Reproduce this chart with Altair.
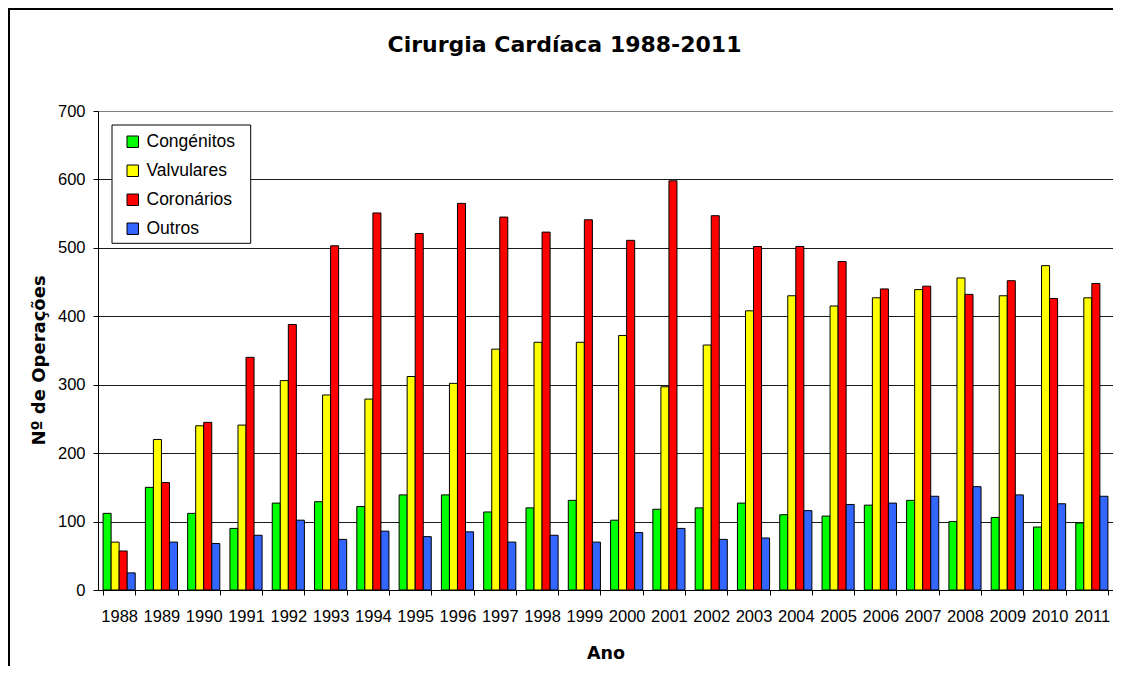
import altair as alt
import pandas as pd

anos = [str(a) for a in range(1988, 2012)]
series = ["Congénitos", "Valvulares", "Coronários", "Outros"]
cores = ["#00FF00", "#FFFF00", "#FF0000", "#3366FF"]
titulo = "Cirurgia Cardíaca 1988-2011"

congenitos = [112, 150, 112, 90, 127, 129, 122, 139, 139, 114, 120, 131,
              102, 118, 120, 127, 110, 108, 124, 131, 100, 106, 92, 98]
valvulares = [70, 220, 240, 241, 306, 285, 279, 312, 302, 352, 362, 362,
              372, 297, 358, 408, 430, 415, 427, 439, 456, 430, 474, 427]
coronarios = [57, 157, 245, 340, 388, 503, 551, 521, 565, 545, 523, 541,
              511, 598, 547, 502, 502, 480, 440, 444, 432, 452, 426, 448]
outros = [25, 70, 68, 80, 102, 74, 86, 78, 85, 70, 80, 70,
          84, 90, 74, 76, 116, 125, 127, 137, 151, 139, 126, 137]

valores = [congenitos, valvulares, coronarios, outros]
rows = []
for s, vals in zip(series, valores):
    for a, v in zip(anos, vals):
        rows.append({"Ano": a, "Serie": s, "Valor": v})
df = pd.DataFrame(rows)

W, H = 1015, 479
PAD_BOTTOM = 76

bars = alt.Chart(df).mark_bar(stroke="black", strokeWidth=1).encode(
    x=alt.X("Ano:N", sort=anos,
            scale=alt.Scale(domain=anos, paddingInner=0.24, paddingOuter=0.12),
            axis=alt.Axis(title="Ano", labelAngle=0, tickBand="extent",
                          tickSize=5, tickColor="black", domainColor="black",
                          labelFont="Liberation Sans", labelFontSize=16.5,
                          labelColor="black", labelBaseline="alphabetic",
                          labelPadding=26,
                          titleFont="DejaVu Sans", titleFontSize=17.5,
                          titleFontWeight="bold", titleColor="black",
                          titleBaseline="alphabetic", titleY=68, grid=False)),
    xOffset=alt.XOffset("Serie:N", sort=series,
                        scale=alt.Scale(domain=series, paddingInner=0, paddingOuter=0)),
    y=alt.Y("Valor:Q", scale=alt.Scale(domain=[0, 700], nice=False),
            axis=alt.Axis(title="Nº de Operações", values=list(range(0, 701, 100)),
                          tickSize=5, tickColor="black", domainColor="black",
                          labelFont="Liberation Sans", labelFontSize=16.5,
                          labelColor="black", labelPadding=8,
                          grid=True,
                          gridColor={"condition": {"test": "datum.value >= 700", "value": "#808080"},
                                     "value": "#1a1a1a"},
                          gridWidth=1, gridOpacity=1,
                          titleFont="DejaVu Sans", titleFontSize=18,
                          titleFontWeight="bold", titleColor="black",
                          titleX=-59, titleY=249, titleBaseline="middle")),
    color=alt.Color("Serie:N", sort=series,
                    scale=alt.Scale(domain=series, range=cores),
                    legend=alt.Legend(title=None, orient="none", legendX=26, legendY=22,
                                      symbolType="square", symbolSize=132,
                                      symbolStrokeColor="black", symbolStrokeWidth=1,
                                      symbolOpacity=1,
                                      labelFont="Liberation Sans", labelFontSize=17.5,
                                      labelColor="black", labelOffset=5,
                                      rowPadding=10, padding=0)),
)

box = alt.Chart(alt.Data(values=[{}])).mark_rect(
    fill="white", stroke="black", strokeWidth=1
).encode(x=alt.value(14), x2=alt.value(152.7), y=alt.value(14), y2=alt.value(132.3))

frame_left = alt.Chart(alt.Data(values=[{}])).mark_rect(
    fill="black", strokeWidth=0
).encode(x=alt.value(-90), x2=alt.value(-88), y=alt.value(-103), y2=alt.value(H + PAD_BOTTOM))

frame_top = alt.Chart(alt.Data(values=[{}])).mark_rect(
    fill="black", strokeWidth=0
).encode(x=alt.value(-90), x2=alt.value(W), y=alt.value(-103), y2=alt.value(-101))

title = alt.Chart(alt.Data(values=[{"t": titulo}])).mark_text(
    font="DejaVu Sans", fontSize=22, fontWeight="bold", color="black",
    align="center", baseline="alphabetic"
).encode(text="t:N", x=alt.value(466.5), y=alt.value(-59))

cover = alt.Chart(alt.Data(values=[{}])).mark_rect(
    fill="white", strokeWidth=0
).encode(x=alt.value(W - 4), x2=alt.value(W), y=alt.value(-100), y2=alt.value(-2))

chart = alt.layer(frame_left, frame_top, title, box, bars, cover).properties(
    width=W, height=H,
    autosize=alt.AutoSizeParams(type="none"),
    padding={"left": 90, "top": 103, "right": 0, "bottom": PAD_BOTTOM},
).configure_view(
    fill="#C0C0C0", stroke="#808080", strokeWidth=2
).configure(background="white")

chart.save("out.html", embed_options={"renderer": "svg", "actions": False})
